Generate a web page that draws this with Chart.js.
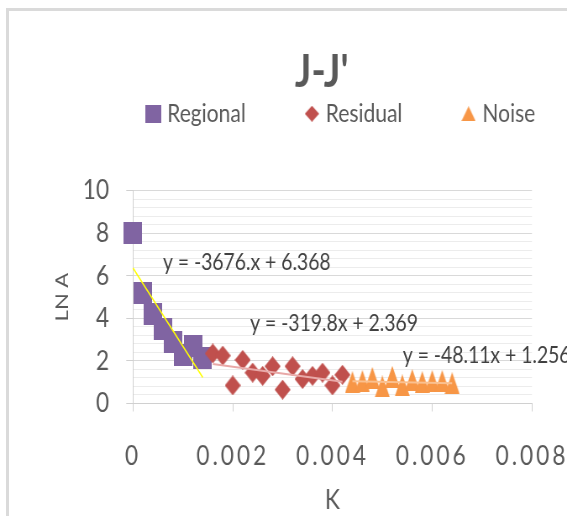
<!DOCTYPE html>
<html>
<head>
<meta charset="utf-8">
<title>J-J'</title>
<script src="https://cdn.jsdelivr.net/npm/chart.js@4.4.1/dist/chart.umd.min.js"></script>
<style>
  html, body { margin: 0; padding: 0; width: 567px; height: 516px; overflow: hidden; background: #ffffff; }
  #frame { position: absolute; left: 6px; top: 8px; width: 700px; height: 700px; border: 3px solid #dadada; box-sizing: border-box; }
  #chart { position: absolute; left: 0; top: 0; transform: scaleX(0.84); transform-origin: 0 0; }
</style>
</head>
<body>
<div id="frame"></div>
<canvas id="chart" width="720" height="516"></canvas>
<script>
// ---- data ----
const seriesNames = ['Regional', 'Residual', 'Noise'];

const regionalK   = [0, 0.0002, 0.0004, 0.0006, 0.0008, 0.0010, 0.0012, 0.0014];
const regionalLnA = [8.0, 5.2, 4.2, 3.5, 2.9, 2.3, 2.7, 2.15];

const residualK   = [0.0016, 0.0018, 0.0020, 0.0022, 0.0024, 0.0026, 0.0028,
                     0.0030, 0.0032, 0.0034, 0.0036, 0.0038, 0.0040, 0.0042];
const residualLnA = [2.35, 2.25, 0.85, 2.05, 1.45, 1.3, 1.75, 0.65, 1.75, 1.15, 1.3, 1.45, 0.85, 1.35];

const noiseK   = [0.0044, 0.0046, 0.0048, 0.0050, 0.0052, 0.0054, 0.0056, 0.0058, 0.0060, 0.0062, 0.0064];
const noiseLnA = [1.0, 1.05, 1.2, 0.8, 1.25, 0.85, 1.1, 1.0, 1.05, 1.05, 0.95];

// linear trend of each group: LN A = slope * K + intercept
const trendSlopes     = [-3676, -319.8, -48.11];
const trendIntercepts = [6.368, 2.369, 1.256];
const trendEquations  = ['y = -3676.x + 6.368', 'y = -319.8x + 2.369', 'y = -48.11x + 1.256'];

const xTickValues = [0, 0.002, 0.004, 0.006, 0.008];
const xTickLabels = ['0', '0.002', '0.004', '0.006', '0.008'];
const yTickValues = [0, 2, 4, 6, 8, 10];
const yTickLabels = ['0', '2', '4', '6', '8', '10'];

// ---- styling ----
const FONT = 'Lato';
const TEXT = '#595959';
const colors = ['#8064A2', '#C0504D', '#F79646'];
const trendColors = ['#FFFF00', '#E8A9A8', '#FAC08F'];
const trendWidths = [1.5, 2, 2];
const equationAnchors = [[0.0006, 6.6], [0.00235, 3.77], [0.00541, 2.24]];
const X_LABEL_SPACING = 3.5;

Chart.defaults.font.family = FONT;
Chart.defaults.color = TEXT;

function marker(shape, w, h, color) {
  const c = document.createElement('canvas');
  c.width = w; c.height = h;
  const g = c.getContext('2d');
  g.fillStyle = color;
  g.beginPath();
  if (shape === 'square') {
    g.rect(0, 0, w, h);
  } else if (shape === 'diamond') {
    g.moveTo(w / 2, 0); g.lineTo(w, h / 2); g.lineTo(w / 2, h); g.lineTo(0, h / 2); g.closePath();
  } else {
    g.moveTo(w / 2, 0); g.lineTo(w, h); g.lineTo(0, h); g.closePath();
  }
  g.fill();
  return c;
}
const pointMarkers = [
  marker('square', 22, 22, colors[0]),
  marker('diamond', 19, 20, colors[1]),
  marker('triangle', 18, 22, colors[2])
];
const legendMarkers = [
  marker('square', 19, 18, colors[0]),
  marker('diamond', 17, 16, colors[1]),
  marker('triangle', 17, 15, colors[2])
];

// linear scale whose tick labels are drawn with extra letter spacing
class SpacedLinearScale extends Chart.LinearScale {
  static id = 'spacedLinear';
  static defaults = Chart.LinearScale.defaults;
  drawLabels(chartArea) {
    const ctx = this.ctx;
    ctx.save();
    ctx.letterSpacing = X_LABEL_SPACING + 'px';
    super.drawLabels(chartArea);
    ctx.restore();
  }
}
Chart.register(SpacedLinearScale);

const pointsOf = (xs, ys) => xs.map((k, i) => ({ x: k, y: ys[i] }));
const groups = [[regionalK, regionalLnA], [residualK, residualLnA], [noiseK, noiseLnA]];

const scatterSets = groups.map(([xs, ys], i) => ({
  label: seriesNames[i],
  data: pointsOf(xs, ys),
  pointStyle: pointMarkers[i],
  pointRadius: 11,
  backgroundColor: colors[i],
  borderColor: colors[i],
  showLine: false,
  clip: false,
  order: 3 - i,
  yAxisID: 'y'
}));

const trendSets = groups.map(([xs], i) => {
  const k0 = Math.min(...xs), k1 = Math.max(...xs);
  return {
    label: seriesNames[i] + ' trend',
    data: [k0, k1].map(k => ({ x: k, y: trendSlopes[i] * k + trendIntercepts[i] })),
    showLine: true,
    pointRadius: 0,
    borderColor: trendColors[i],
    borderWidth: trendWidths[i],
    clip: false,
    order: 0,
    yAxisID: 'y'
  };
});

const near = (a, b) => Math.abs(a - b) < 1e-9;
const majorIndex = (vals, v) => vals.findIndex(t => Math.abs(t - v) < 1e-6 * Math.max(1, Math.abs(t)) + 1e-9);

// extra room between the legend row and the plot
const legendBand = {
  id: 'legendBand',
  beforeInit(chart) {
    const lg = chart.legend;
    if (!lg) return;
    const fit = lg.fit;
    lg.fit = function () { fit.call(this); this.height = 164.3; };
  }
};

// trend equations written next to their lines
const equationLabels = {
  id: 'equationLabels',
  afterDatasetsDraw(chart) {
    const { ctx, scales } = chart;
    ctx.save();
    ctx.font = '23px ' + FONT;
    ctx.fillStyle = '#404040';
    ctx.textAlign = 'left';
    ctx.textBaseline = 'middle';
    trendEquations.forEach((t, i) => {
      const [k, v] = equationAnchors[i];
      ctx.fillText(t, scales.x.getPixelForValue(k), scales.y.getPixelForValue(v));
    });
    ctx.restore();
  }
};

new Chart(document.getElementById('chart'), {
  type: 'scatter',
  data: { datasets: [...scatterSets, ...trendSets] },
  options: {
    responsive: false,
    animation: false,
    events: [],
    devicePixelRatio: 1,
    layout: { padding: { left: 54, right: 8, top: 0, bottom: 0 } },
    plugins: {
      title: {
        display: true,
        text: "J-J'",
        color: TEXT,
        font: { size: 46, weight: 'bold' },
        padding: { top: 44.4, bottom: -73.2 }
      },
      legend: {
        display: true,
        position: 'top',
        align: 'end',
        labels: {
          usePointStyle: true,
          pointStyleWidth: 8,
          boxHeight: 25,
          padding: 74.8,
          color: TEXT,
          font: { size: 25 },
          filter: item => item.datasetIndex < seriesNames.length,
          sort: (a, b) => a.datasetIndex - b.datasetIndex,
          generateLabels(chart) {
            const items = Chart.defaults.plugins.legend.labels.generateLabels(chart);
            items.forEach(it => {
              if (it.datasetIndex < legendMarkers.length) it.pointStyle = legendMarkers[it.datasetIndex];
            });
            return items;
          }
        }
      },
      tooltip: { enabled: false }
    },
    scales: {
      x: {
        type: 'spacedLinear',
        position: 'bottom',
        min: 0,
        max: 0.008,
        ticks: {
          stepSize: 0.002,
          autoSkip: false,
          maxRotation: 0,
          padding: 29,
          color: TEXT,
          font: { size: 27 },
          callback: v => { const i = majorIndex(xTickValues, v); return i < 0 ? '' : xTickLabels[i]; }
        },
        grid: { drawOnChartArea: false, tickLength: 8, tickColor: '#d0d0d0', color: '#d0d0d0' },
        border: { color: '#d0d0d0' },
        title: { display: true, text: 'K', color: TEXT, font: { size: 27 }, padding: { top: 0, bottom: 0 } },
        afterFit(s) { s.height = 112.5; }
      },
      y: {
        type: 'linear',
        position: 'left',
        min: 0,
        max: 10,
        ticks: {
          stepSize: 0.4,
          maxTicksLimit: 40,
          autoSkip: false,
          padding: 20.5,
          color: TEXT,
          font: { size: 27 },
          callback: v => { const i = majorIndex(yTickValues, v); return i < 0 ? '' : yTickLabels[i]; }
        },
        grid: {
          tickLength: 8,
          color: c => majorIndex(yTickValues, c.tick.value) < 0 ? '#ececec' : '#d9d9d9',
          tickColor: c => majorIndex(yTickValues, c.tick.value) < 0 ? 'rgba(0,0,0,0)' : '#d0d0d0'
        },
        border: { color: '#d0d0d0' },
        title: { display: true, text: 'LN A', color: TEXT, font: { size: 22 }, padding: { top: 6.8, bottom: 0 } },
        afterFit(s) { s.width = 104.3; }
      },
      yPad: {
        type: 'linear',
        position: 'right',
        display: true,
        grid: { display: false },
        ticks: { display: false },
        border: { display: false },
        afterFit(s) { s.width = 78.7; }
      }
    }
  },
  plugins: [legendBand, equationLabels]
});
</script>
</body>
</html>
